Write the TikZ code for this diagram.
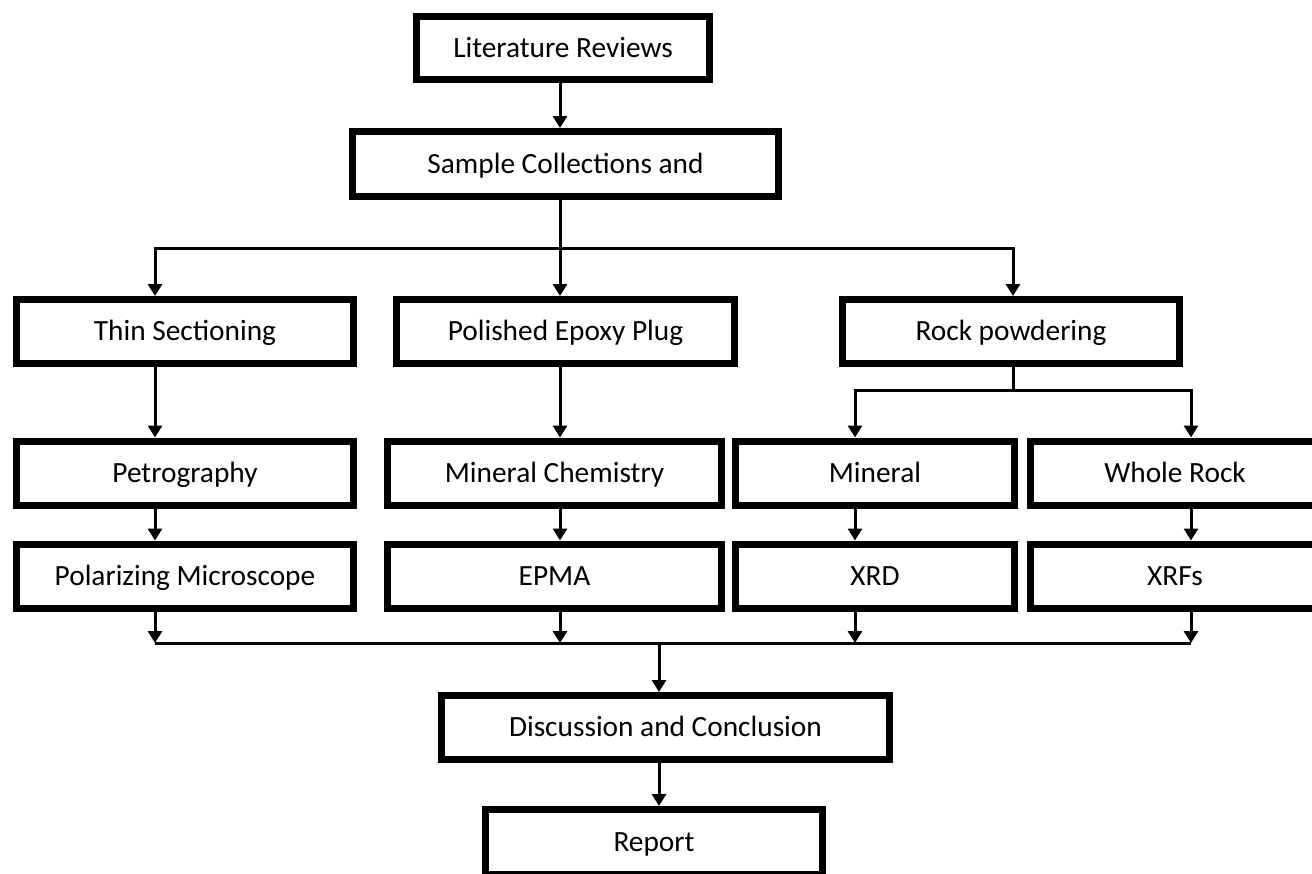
\documentclass[tikz,border=0pt]{standalone}
\usepackage{fontspec}
\setmainfont{Carlito}
\usetikzlibrary{arrows.meta, positioning}

\begin{document}
\begin{tikzpicture}[
  x=0.02cm, y=-0.02cm,
  every node/.style={font=\fontsize{16.7}{20}\selectfont},
  pbox/.style={draw, line width=0.14cm, minimum height=1.28cm,
               minimum width=6.74cm, inner sep=2pt,
               text height=0.36cm, text depth=0pt},
  arr/.style={-{Triangle[length=0.24cm, width=0.28cm]}, line width=0.06cm},
  link/.style={line width=0.06cm},
]
  \useasboundingbox (0,0) rectangle (1312,873);

  % Top
  \node[pbox, minimum width=5.86cm, minimum height=1.26cm] (lit) at (563,48) {Literature Reviews};
  \node[pbox, minimum width=8.52cm, minimum height=1.30cm] (samp) at (565.5,164) {Sample Collections and};

  % Branch points
  \coordinate (k0) at (560,248);
  \coordinate (kL) at (155,248);
  \coordinate (kR) at (1013,248);
  \coordinate (m0) at (1013,390);
  \coordinate (mL) at (855,390);
  \coordinate (mR) at (1191,390);
  \coordinate (j0) at (659,643);

  % Preparation
  \node[pbox] (thin) at (185,331.5) {Thin Sectioning};
  \node[pbox, minimum width=6.76cm] (epoxy) at (565.5,331.5) {Polished Epoxy Plug};
  \node[pbox] (powder) at (1011,331.5) {Rock powdering};

  % Analysis
  \node[pbox] (petro) at (185,473) {Petrography};
  \node[pbox, minimum width=6.68cm] (minchem) at (554.5,473) {Mineral Chemistry};
  \node[pbox, minimum width=5.6cm] (mineral) at (875,473) {Mineral};
  \node[pbox, minimum width=5.78cm] (whole) at (1175,473) {Whole Rock};

  % Methods
  \node[pbox] (polar) at (185,576) {Polarizing Microscope};
  \node[pbox, minimum width=6.68cm] (epma) at (554.5,576) {EPMA};
  \node[pbox, minimum width=5.6cm] (xrd) at (875,576) {XRD};
  \node[pbox, minimum width=5.78cm] (xrf) at (1175,576) {XRFs};

  % Output
  \node[pbox, minimum width=8.96cm] (disc) at (665.5,727.5) {Discussion and Conclusion};
  \node[pbox, minimum height=1.30cm] (report) at (654,842) {Report};

  % Top arrows and first split
  \draw[arr] (lit.south -| k0) -- (samp.north -| k0);
  \draw[arr] (samp.south -| k0) -- (k0 |- epoxy.north);
  \draw[arr] (k0) -| (kL |- thin.north);
  \draw[arr] (k0) -| (kR |- powder.north);

  % Columns
  \draw[arr] (thin.south -| kL) -- (petro.north -| kL);
  \draw[arr] (petro.south -| kL) -- (polar.north -| kL);
  \draw[arr] (epoxy.south -| k0) -- (minchem.north -| k0);
  \draw[arr] (minchem.south -| k0) -- (epma.north -| k0);
  \draw[link] (powder.south -| m0) -- (m0);
  \draw[arr] (m0) -| (mL |- mineral.north);
  \draw[arr] (m0) -| (mR |- whole.north);
  \draw[arr] (mineral.south -| mL) -- (xrd.north -| mL);
  \draw[arr] (whole.south -| mR) -- (xrf.north -| mR);

  % Merge
  \draw[arr] (polar.south -| kL) -- (kL |- j0);
  \draw[arr] (epma.south -| k0) -- (k0 |- j0);
  \draw[arr] (xrd.south -| mL) -- (mL |- j0);
  \draw[arr] (xrf.south -| mR) -- (mR |- j0);
  \draw[link] (kL |- j0) -- (mR |- j0);
  \draw[arr] (j0) -- (disc.north -| j0);
  \draw[arr] (disc.south -| j0) -- (report.north -| j0);
\end{tikzpicture}
\end{document}
